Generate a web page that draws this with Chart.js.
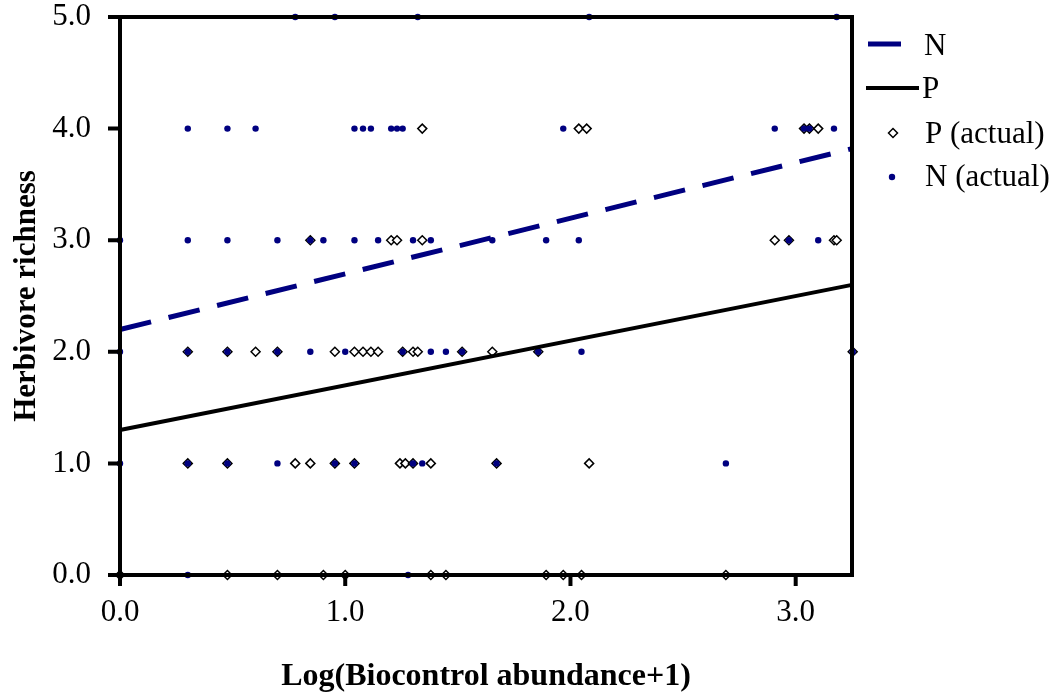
<!DOCTYPE html>
<html>
<head>
<meta charset="utf-8">
<title>Herbivore richness</title>
<script src="https://cdn.jsdelivr.net/npm/chart.js@4.4.1/dist/chart.umd.min.js"></script>
<style>
    body { margin: 0; background: #fff; }
    #wrap { width: 1061px; height: 696px; }
</style>
</head>
<body>
<div id="wrap"><canvas id="chart" width="1061" height="696"></canvas></div>
<script>
// Fitted regression lines, values at both ends of the x range
const lineX = [0, 3.25];
const nLineY = [2.20, 3.82];
const pLineY = [1.30, 2.60];

// N (actual) observations
const nActualX = [
    0.778, 0.954, 1.322, 2.083, 3.182,
    0.301, 0.477, 0.602, 1.041, 1.079, 1.114, 1.204, 1.230, 1.255, 1.968, 2.907, 3.037, 3.061, 3.170,
    0, 0.301, 0.477, 0.699, 0.845, 0.903, 1.041, 1.146, 1.301, 1.380, 1.653, 1.892, 2.037, 2.970, 3.100,
    0, 0.301, 0.477, 0.699, 0.845, 1.000, 1.255, 1.380, 1.447, 1.519, 1.857, 2.049, 3.253,
    0, 0.301, 0.477, 0.699, 0.954, 1.041, 1.301, 1.342, 1.672, 2.690,
    0.301, 1.279
];
const nActualY = [
    5, 5, 5, 5, 5,
    4, 4, 4, 4, 4, 4, 4, 4, 4, 4, 4, 4, 4, 4,
    3, 3, 3, 3, 3, 3, 3, 3, 3, 3, 3, 3, 3, 3, 3,
    2, 2, 2, 2, 2, 2, 2, 2, 2, 2, 2, 2, 2,
    1, 1, 1, 1, 1, 1, 1, 1, 1, 1,
    0, 0
];

// P (actual) observations
const pActualX = [
    1.342, 2.037, 2.072, 3.037, 3.061, 3.100,
    0.845, 1.204, 1.230, 1.342, 2.907, 2.970, 3.170, 3.182,
    0.301, 0.477, 0.602, 0.699, 0.954, 1.041, 1.079, 1.114, 1.146, 1.255, 1.301, 1.322, 1.519, 1.653, 1.857, 3.253,
    0.301, 0.477, 0.778, 0.845, 0.954, 1.041, 1.243, 1.267, 1.301, 1.380, 1.672, 2.083,
    0, 0.477, 0.699, 0.903, 1.000, 1.380, 1.447, 1.892, 1.968, 2.049, 2.690
];
const pActualY = [
    4, 4, 4, 4, 4, 4,
    3, 3, 3, 3, 3, 3, 3, 3,
    2, 2, 2, 2, 2, 2, 2, 2, 2, 2, 2, 2, 2, 2, 2, 2,
    1, 1, 1, 1, 1, 1, 1, 1, 1, 1, 1, 1,
    0, 0, 0, 0, 0, 0, 0, 0, 0, 0, 0
];

const legendLabels = ['N', 'P', 'P (actual)', 'N (actual)'];
const xTitle = 'Log(Biocontrol abundance+1)';
const yTitle = 'Herbivore richness';

const NAVY = '#000080';
const SERIF = '"Liberation Serif", "Times New Roman", serif';

function toPoints(xs, ys) {
    return xs.map((x, i) => ({ x: x, y: ys[i] }));
}

// box around the plot plus outside tick marks, drawn over the points like the original
const framePlugin = {
    id: 'frame',
    afterDatasetsDraw(chart) {
        const { ctx, chartArea: a, scales } = chart;
        ctx.save();
        ctx.strokeStyle = '#000';
        ctx.lineWidth = 4;
        ctx.lineCap = 'butt';
        ctx.beginPath();
        scales.y.ticks.forEach(t => {
            const py = scales.y.getPixelForValue(t.value);
            ctx.moveTo(a.left - 12, py);
            ctx.lineTo(a.left, py);
        });
        scales.x.ticks.forEach(t => {
            const px = scales.x.getPixelForValue(t.value);
            ctx.moveTo(px, a.bottom);
            ctx.lineTo(px, a.bottom + 11);
        });
        ctx.stroke();
        ctx.strokeRect(a.left, a.top, a.right - a.left, a.bottom - a.top);
        ctx.restore();
    }
};

// hand drawn legend on the right side
const legendPlugin = {
    id: 'sideLegend',
    afterDraw(chart) {
        const ctx = chart.ctx;
        ctx.save();
        ctx.font = '31px ' + SERIF;
        ctx.fillStyle = '#000';
        ctx.textBaseline = 'middle';
        ctx.textAlign = 'left';

        // N line
        ctx.strokeStyle = NAVY;
        ctx.lineWidth = 5;
        ctx.beginPath();
        ctx.moveTo(868, 44);
        ctx.lineTo(901, 44);
        ctx.stroke();
        ctx.fillText(legendLabels[0], 924, 47);

        // P line
        ctx.strokeStyle = '#000';
        ctx.lineWidth = 4;
        ctx.beginPath();
        ctx.moveTo(866, 88);
        ctx.lineTo(919, 88);
        ctx.stroke();
        ctx.fillText(legendLabels[1], 922, 90);

        // P (actual) marker
        ctx.lineWidth = 1.5;
        ctx.fillStyle = '#fff';
        ctx.beginPath();
        ctx.moveTo(893, 128.5);
        ctx.lineTo(897.5, 133);
        ctx.lineTo(893, 137.5);
        ctx.lineTo(888.5, 133);
        ctx.closePath();
        ctx.fill();
        ctx.stroke();
        ctx.fillStyle = '#000';
        ctx.fillText(legendLabels[2], 925, 135);

        // N (actual) marker
        ctx.fillStyle = NAVY;
        ctx.beginPath();
        ctx.arc(892, 177, 3.2, 0, Math.PI * 2);
        ctx.fill();
        ctx.fillStyle = '#000';
        ctx.fillText(legendLabels[3], 925, 178);
        ctx.restore();
    }
};

const ctx = document.getElementById('chart').getContext('2d');
const chart = new Chart(ctx, {
    type: 'scatter',
    data: {
        datasets: [
            {
                label: legendLabels[0],
                data: toPoints(lineX, nLineY),
                showLine: true,
                borderColor: NAVY,
                borderWidth: 5,
                borderDash: [32, 18],
                pointRadius: 0,
                order: 1
            },
            {
                label: legendLabels[1],
                data: toPoints(lineX, pLineY),
                showLine: true,
                borderColor: '#000',
                borderWidth: 4,
                pointRadius: 0,
                order: 2
            },
            {
                label: legendLabels[2],
                data: toPoints(pActualX, pActualY),
                pointStyle: 'rectRot',
                pointRadius: 4.5,
                borderWidth: 1.5,
                borderColor: '#000',
                backgroundColor: '#fff',
                order: 4
            },
            {
                label: legendLabels[3],
                data: toPoints(nActualX, nActualY),
                pointStyle: 'circle',
                pointRadius: 3.2,
                borderWidth: 0,
                backgroundColor: NAVY,
                order: 3
            }
        ]
    },
    options: {
        responsive: false,
        animation: false,
        clip: false,
        layout: { padding: { left: 0, right: 209, top: 17, bottom: 0 } },
        plugins: {
            legend: { display: false },
            tooltip: { enabled: false }
        },
        scales: {
            x: {
                type: 'linear',
                min: 0,
                max: 3.25,
                border: { display: false },
                grid: { display: false },
                ticks: {
                    stepSize: 1,
                    includeBounds: false,
                    padding: 11,
                    color: '#000',
                    font: { family: SERIF, size: 31 },
                    maxRotation: 0,
                    callback: v => Number(v).toFixed(1)
                },
                title: {
                    display: true,
                    text: xTitle,
                    color: '#000',
                    font: { family: SERIF, size: 32, weight: 'bold' },
                    padding: { top: 0, bottom: 0 }
                },
                afterFit(scale) {
                    scale.height = 121;
                    scale.paddingLeft = 0;
                    scale.paddingRight = 0;
                }
            },
            y: {
                min: 0,
                max: 5,
                border: { display: false },
                grid: { display: false },
                ticks: {
                    stepSize: 1,
                    padding: 21,
                    color: '#000',
                    font: { family: SERIF, size: 31 },
                    callback: v => Number(v).toFixed(1)
                },
                title: {
                    display: true,
                    text: yTitle,
                    color: '#000',
                    font: { family: SERIF, size: 31, weight: 'bold' },
                    padding: { top: 8, bottom: 0 }
                },
                afterFit(scale) {
                    scale.width = 120;
                    scale.paddingTop = 0;
                    scale.paddingBottom = 0;
                }
            }
        }
    },
    plugins: [framePlugin, legendPlugin]
});
</script>
</body>
</html>
